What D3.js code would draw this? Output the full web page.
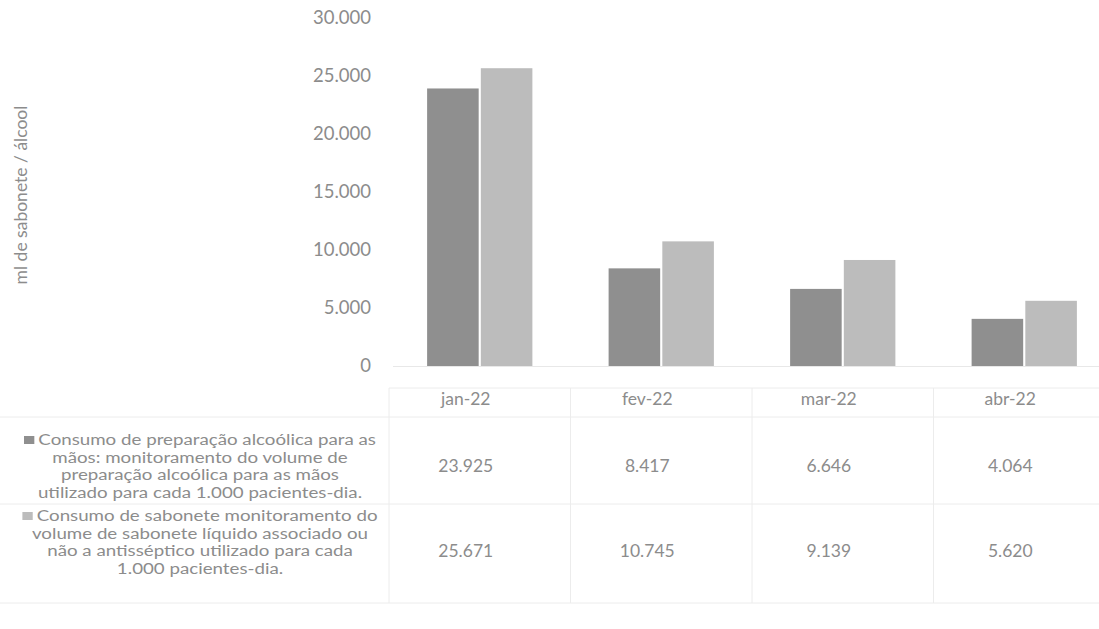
<!DOCTYPE html>
<html>
<head>
<meta charset="utf-8">
<script src="https://cdn.jsdelivr.net/npm/d3@7"></script>
<style>
  html, body { margin: 0; padding: 0; background: #fff; }
  svg { display: block; }
  text { font-family: Lato, "Open Sans", "Liberation Sans", sans-serif; fill: #8c8c8c; }
</style>
</head>
<body>
<svg id="chart" width="1099" height="629"></svg>
<script>
// ---- data ----
const categories = ["jan-22", "fev-22", "mar-22", "abr-22"];
const alcoolValues = [23925, 8417, 6646, 4064];
const saboneteValues = [25671, 10745, 9139, 5620];
const yTicks = [0, 5000, 10000, 15000, 20000, 25000, 30000];
const seriesNames = ["alcool", "sabonete"];
const seriesColors = ["#8f8f8f", "#bcbcbc"];
const legendLines = [
  ["Consumo de preparação alcoólica para as", "mãos: monitoramento do volume de", "preparação alcoólica para as mãos", "utilizado para cada 1.000 pacientes-dia."],
  ["Consumo de sabonete monitoramento do", "volume de sabonete líquido associado ou", "não a antisséptico utilizado para cada", "1.000 pacientes-dia."]
];
const yTitle = "ml de sabonete / álcool";

const seriesValues = [alcoolValues, saboneteValues];
const locale = d3.formatLocale({ decimal: ",", thousands: ".", grouping: [3], currency: ["", ""] });
const fmt = locale.format(",d");

const svg = d3.select("#chart");

// ---- scales ----
const y = d3.scaleLinear().domain([0, 30000]).range([366, 18]);
const x = d3.scaleBand().domain(categories).range([389, 1115]).padding(0);
const step = x.bandwidth();
const xs = d3.scaleBand().domain(seriesNames).range([step * 0.21, step * 0.79]).paddingInner(0.04);

// ---- y axis (labels only) ----
const yAxis = d3.axisLeft(y).tickValues(yTicks).tickFormat(d => d === 0 ? "0" : fmt(d)).tickSize(0).tickPadding(0);
const gy = svg.append("g").attr("transform", "translate(371,0)").call(yAxis);
gy.select(".domain").remove();
gy.selectAll("text").style("font-size", "18.5px").attr("fill", "#8c8c8c").style("font-family", 'Lato, sans-serif');

// y title
svg.append("text")
  .attr("transform", "translate(27,195) rotate(-90)")
  .attr("text-anchor", "middle")
  .style("font-size", "17.5px")
  .attr("fill", "#9a9a9a")
  .text(yTitle);

// baseline
svg.append("line")
  .attr("x1", 393).attr("x2", 1099)
  .attr("y1", y(0) + 0.5).attr("y2", y(0) + 0.5)
  .attr("stroke", "#e8e8e8");

// ---- bars ----
const groups = svg.append("g").selectAll("g")
  .data(categories)
  .join("g")
  .attr("transform", d => `translate(${x(d)},0)`);

groups.selectAll("rect")
  .data((d, i) => seriesNames.map((s, j) => ({ s, v: seriesValues[j][i], c: seriesColors[j] })))
  .join("rect")
  .attr("x", d => xs(d.s))
  .attr("width", xs.bandwidth())
  .attr("y", d => y(d.v))
  .attr("height", d => y(0) - y(d.v))
  .attr("fill", d => d.c);

// ---- data table ----
const lineColor = "#ececec";
const tableTop = 388, headerBottom = 417, rowDivide = 504, tableBottom = 603;
const tableLeft = x(categories[0]);
const textOffset = -14;

const tbl = svg.append("g");
tbl.append("line").attr("x1", tableLeft).attr("x2", 1099).attr("y1", tableTop).attr("y2", tableTop).attr("stroke", lineColor);
[headerBottom, rowDivide, tableBottom].forEach(yy => {
  tbl.append("line").attr("x1", 0).attr("x2", 1099).attr("y1", yy).attr("y2", yy).attr("stroke", lineColor);
});
categories.forEach(c => {
  tbl.append("line").attr("x1", x(c)).attr("x2", x(c)).attr("y1", tableTop).attr("y2", tableBottom).attr("stroke", lineColor);
});

// header labels
tbl.selectAll("text.hdr")
  .data(categories)
  .join("text")
  .attr("class", "hdr")
  .attr("x", d => x(d) + step / 2 + textOffset)
  .attr("y", 405)
  .attr("text-anchor", "middle")
  .style("font-size", "17.5px")
  .text(d => d);

// values
const rowCenters = [466, 551];
seriesValues.forEach((vals, j) => {
  tbl.selectAll("text.v" + j)
    .data(vals.map((v, i) => ({ v, c: categories[i] })))
    .join("text")
    .attr("class", "v" + j)
    .attr("x", d => x(d.c) + step / 2 + textOffset)
    .attr("y", rowCenters[j] + 6)
    .attr("text-anchor", "middle")
    .style("font-size", "17.5px")
    .text(d => fmt(d.v));
});

// legend text (slightly widened to match the reference proportions)
const legendStart = [440, 516];
const lineH = 17.6;
const legendCenter = 200;
const sq = 8;
const targetWidth = 352; // marker + first line of the first legend entry
let stretch = 1;
legendLines.forEach((lines, j) => {
  const outer = tbl.append("g");
  const g = outer.append("g");
  lines.forEach((ln, k) => {
    const t = g.append("text")
      .attr("x", k === 0 ? (sq + 3) / 2 : 0)
      .attr("y", legendStart[j] + k * lineH + 5)
      .attr("text-anchor", "middle")
      .style("font-size", "14.5px")
      .text(ln);
    if (k === 0) {
      const bb = t.node().getBBox();
      if (j === 0) stretch = targetWidth / (bb.width + sq + 3);
      g.append("rect")
        .attr("x", bb.x - sq - 3)
        .attr("y", legendStart[j] - sq / 2)
        .attr("width", sq).attr("height", sq)
        .attr("fill", seriesColors[j]);
    }
  });
  outer.attr("transform", `translate(${legendCenter},0)`);
  g.attr("transform", `scale(${stretch},1)`);
});
</script>
</body>
</html>
